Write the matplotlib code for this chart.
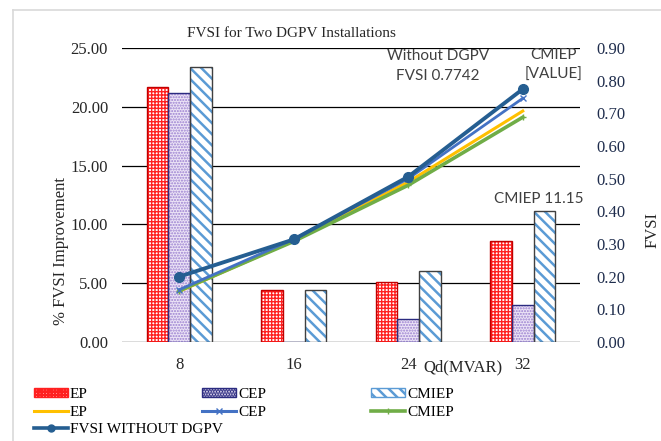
import matplotlib.pyplot as plt
import numpy as np
from matplotlib.lines import Line2D
from matplotlib.patches import Patch

qd = ["8", "16", "24", "32"]
ep_improve = [21.7, 4.42, 5.08, 8.61]
cep_improve = [21.2, 0.0, 1.93, 3.12]
cmiep_improve = [23.4, 4.42, 6.04, 11.15]

ep_fvsi = [0.155, 0.310, 0.490, 0.707]
cep_fvsi = [0.160, 0.315, 0.500, 0.746]
cmiep_fvsi = [0.157, 0.308, 0.480, 0.688]
base_fvsi = [0.200, 0.314, 0.506, 0.7742]

serif = "Liberation Serif"
sans = "Lato"
plt.rcParams["font.family"] = serif

fig = plt.figure(figsize=(6.61, 4.41), dpi=100)
ax = fig.add_axes([122 / 661, 1 - 342 / 441, 458 / 661, 294 / 441])
ax2 = ax.twinx()

x = np.arange(len(qd))
w = 0.19
# values, offset, face, hatch colour, hatch, outline, hatch width
bar_specs = [
    (ep_improve, -w, "white", "#ff2020", "+++++", "#c00000", 1.0),
    (cep_improve, 0, "#ece4f6", "#9a7fd0", "......", "#2b2b80", 1.0),
    (cmiep_improve, w, "white", "#5b9bd5", "\\\\\\", "#404040", 1.8),
]
for vals, off, face, hcol, hatch, edge, hlw in bar_specs:
    plt.rcParams["hatch.linewidth"] = hlw
    ax.bar(x + off, vals, w, color=face, edgecolor=hcol, hatch=hatch, linewidth=0, zorder=2)
    ax.bar(x + off, vals, w, fill=False, edgecolor=edge, linewidth=1.0, zorder=3)

ax.set_ylim(0, 25)
ax.set_xlim(-0.5, 3.5)
ax.set_yticks(np.arange(0, 26, 5))
ax.set_yticklabels([f"{v:.2f}" for v in np.arange(0, 26, 5)])
ax.set_xticks(x)
ax.set_xticklabels(qd)
ax.grid(axis="y", color="black", linewidth=0.9, zorder=0)
ax.set_axisbelow(True)
for s in ax.spines.values():
    s.set_visible(False)
for s in ax2.spines.values():
    s.set_visible(False)
ax.axhline(0, color="#d0d0d0", linewidth=1.0, zorder=1)
ax.tick_params(axis="both", length=0, labelsize=12, colors="#262626", pad=11)
ax.tick_params(axis="y", pad=10)

ax2.plot(x, ep_fvsi, color="#ffc000", linewidth=2.2, zorder=4)
ax2.plot(x, cmiep_fvsi, color="#70ad47", linewidth=2.6, marker="+", markersize=4, zorder=5)
ax2.plot(x, cep_fvsi, color="#4472c4", linewidth=2.0, marker="x", markersize=5, zorder=6)
ax2.plot(x, base_fvsi, color="#255e91", linewidth=2.8, marker="o", markersize=7, zorder=7)
ax2.set_ylim(0, 0.9)
ax2.set_yticks(np.arange(0, 0.91, 0.1))
ax2.set_yticklabels([f"{v:.2f}" for v in np.arange(0, 0.91, 0.1)])
ax2.tick_params(axis="y", length=0, labelsize=12, colors="#1f2d4d", pad=12)
ax2.set_ylabel("FVSI", fontsize=12, color="#262626")
ax2.yaxis.set_label_coords(1.14, 0.38)

ax.set_ylabel("% FVSI Improvement", fontsize=12, color="#262626")
ax.yaxis.set_label_coords(-0.115, 0.31)
ax.set_xlabel("Qd(MVAR)", fontsize=12, color="#262626")
ax.xaxis.set_label_coords(0.745, -0.06)
ax.set_title("FVSI for Two DGPV Installations", fontsize=11, color="#262626", x=0.37, pad=8)

ax2.annotate("Without DGPV\nFVSI 0.7742", (3, base_fvsi[3]), xytext=(-85, 23),
             textcoords="offset pixels", ha="center", va="center", fontsize=11,
             family=sans, color="#404040", linespacing=1.5)
ax2.annotate("CMIEP\n[VALUE]", (3, cmiep_fvsi[3]), xytext=(31, 52),
             textcoords="offset pixels", ha="center", va="center", fontsize=11,
             family=sans, color="#404040", linespacing=1.5)
ax.annotate(f"CMIEP {cmiep_improve[3]:.2f}", (3 + w, cmiep_improve[3]), xytext=(-6, 12),
            textcoords="offset pixels", ha="center", va="center", fontsize=11,
            family=sans, color="#404040")

# legend, laid out in three columns like the original
plt.rcParams["hatch.linewidth"] = 1.0
h_ep = Patch(facecolor="white", edgecolor="#ff2020", hatch="+++++")
h_cep = Patch(facecolor="#ece4f6", edgecolor="#2b2b80", hatch="......")
plt.rcParams["hatch.linewidth"] = 1.8
h_cm = Patch(facecolor="white", edgecolor="#5b9bd5", hatch="\\\\\\")
l_ep = Line2D([], [], color="#ffc000", linewidth=2.2)
l_cep = Line2D([], [], color="#4472c4", linewidth=2.2, marker="x", markersize=4)
l_cm = Line2D([], [], color="#70ad47", linewidth=2.6, marker="+", markersize=4)
l_base = Line2D([], [], color="#255e91", linewidth=2.6, marker="o", markersize=5)
columns = [
    ([h_ep, l_ep, l_base], ["EP", "EP", "FVSI WITHOUT DGPV"], 34),
    ([h_cep, l_cep], ["CEP", "CEP"], 202),
    ([h_cm, l_cm], ["CMIEP", "CMIEP"], 371),
]
for handles, labels, px in columns:
    fig.legend(handles, labels, loc="upper left", bbox_to_anchor=(px / 661, 1 - 388 / 441),
               frameon=False, fontsize=11, handlelength=2.2, handleheight=0.5,
               handletextpad=0.15, labelspacing=0.3, borderaxespad=0, borderpad=0)

fig.add_artist(Line2D([13 / 661, 13 / 661], [0, 1 - 10 / 441], color="#d9d9d9", linewidth=1.2))
fig.add_artist(Line2D([13 / 661, 1], [1 - 10 / 441, 1 - 10 / 441], color="#d9d9d9", linewidth=1.2))

fig.savefig("out.png", dpi=100)
